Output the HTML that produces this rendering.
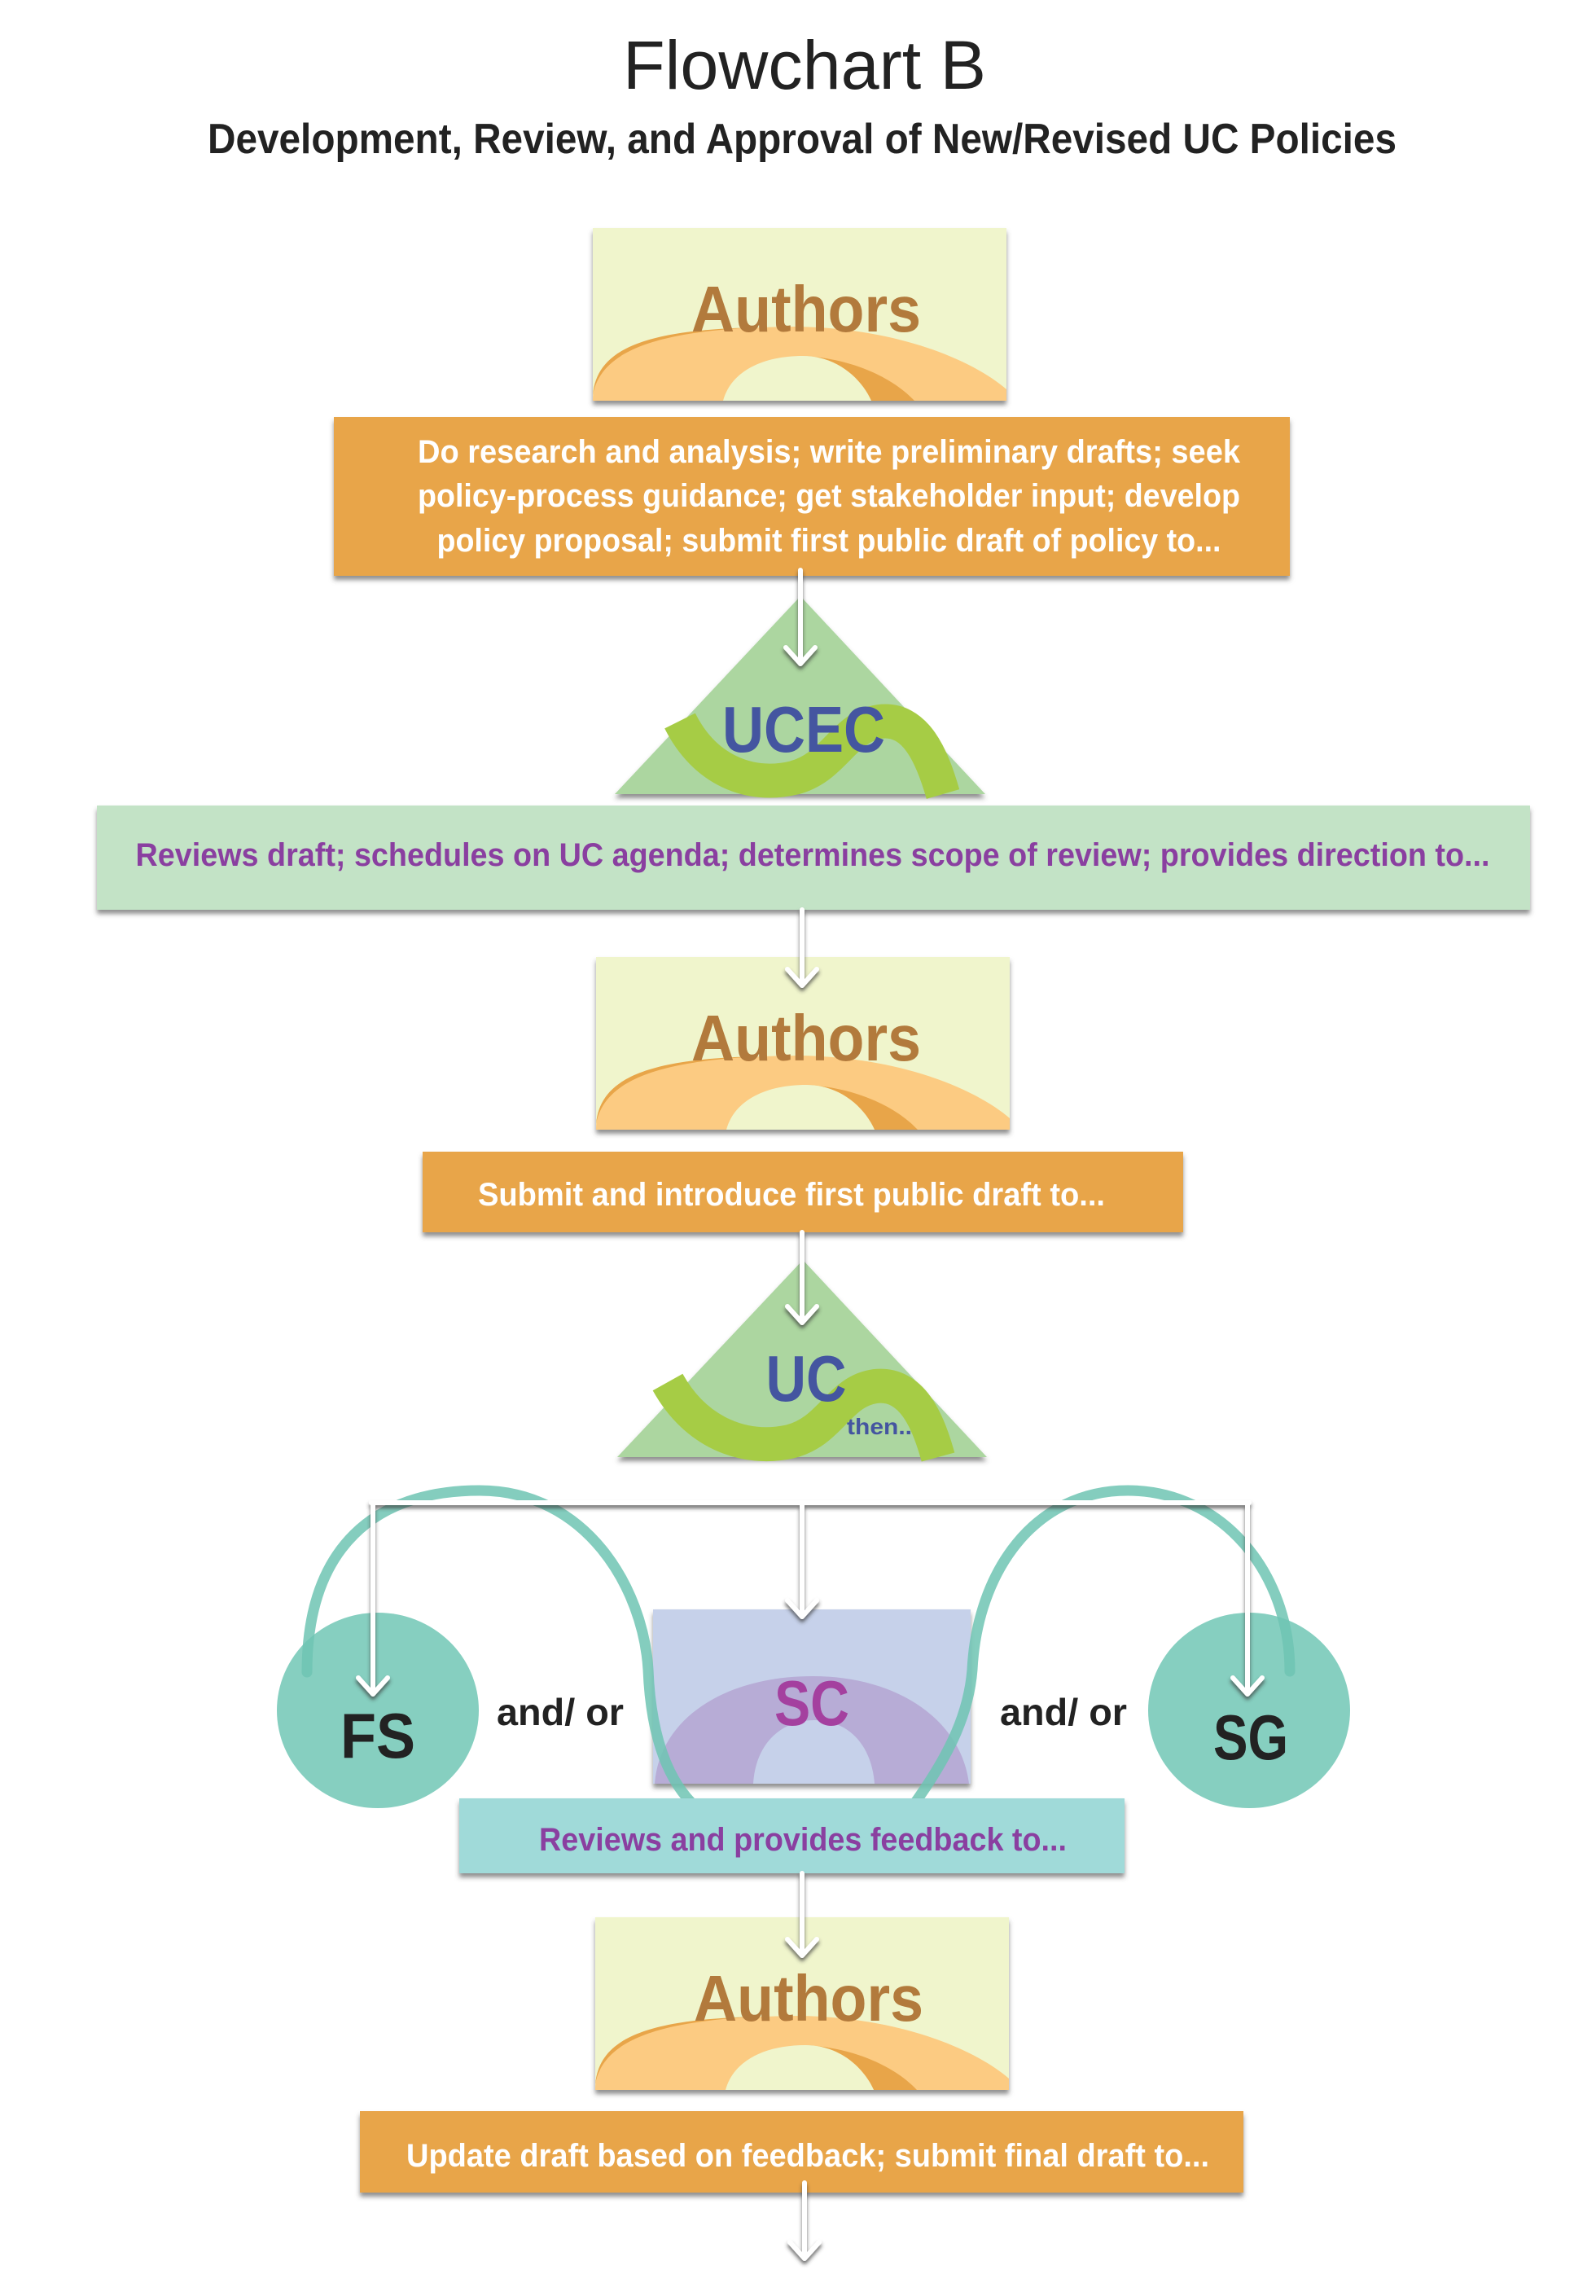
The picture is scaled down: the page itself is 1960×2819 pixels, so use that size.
<!DOCTYPE html>
<html><head><meta charset="utf-8">
<style>
html,body{margin:0;padding:0;background:#fff;}
svg{display:block;}
text{font-family:"Liberation Sans",sans-serif;font-weight:bold;}
</style></head>
<body>
<svg width="1960" height="2819" viewBox="0 0 1960 2819" xmlns="http://www.w3.org/2000/svg">
<defs>
<filter id="sh" x="-5%" y="-10%" width="110%" height="130%">
<feDropShadow dx="0" dy="5" stdDeviation="3" flood-color="#444" flood-opacity="0.6"/>
</filter>
<filter id="ash" x="-50%" y="-10%" width="200%" height="130%">
<feDropShadow dx="0" dy="4" stdDeviation="2.5" flood-color="#333" flood-opacity="0.7"/>
</filter>
<g id="auth">
<rect x="0" y="0" width="508" height="212" fill="#f0f5cc"/>
<path d="M0,212 C0,150 60,123 250,121 C380,123 470,165 508,198 L508,212 Z" fill="#fccb82"/>
<path d="M0,205 C5,150 60,125 200,122 C80,128 10,150 0,205 Z" fill="#e8a548"/>
<path d="M258,157 C320,160 370,185 395,212 L342,212 C330,185 300,157 258,157 Z" fill="#e8a548"/>
<path d="M160,212 C170,175 210,157 258,157 C300,157 330,185 342,212 Z" fill="#f0f5cc"/>
</g>
</defs>

<text x="988" y="109" font-size="84" style="font-weight:normal" text-anchor="middle" fill="#222" textLength="446" lengthAdjust="spacingAndGlyphs">Flowchart B</text>
<text x="985" y="188" font-size="52" text-anchor="middle" fill="#222" textLength="1460" lengthAdjust="spacingAndGlyphs">Development, Review, and Approval of New/Revised UC Policies</text>

<g filter="url(#sh)"><use href="#auth" transform="translate(728,280)"/></g>
<text x="990" y="407" font-size="80" text-anchor="middle" fill="#b27a3c" textLength="282" lengthAdjust="spacingAndGlyphs">Authors</text>

<rect x="410" y="512" width="1174" height="195" fill="#e8a548" filter="url(#sh)"/>
<g fill="#fff" font-size="40" text-anchor="middle">
<text x="1018" y="568" textLength="1010" lengthAdjust="spacingAndGlyphs">Do research and analysis; write preliminary drafts; seek</text>
<text x="1018" y="622" textLength="1010" lengthAdjust="spacingAndGlyphs">policy-process guidance; get stakeholder input; develop</text>
<text x="1018" y="677" textLength="963" lengthAdjust="spacingAndGlyphs">policy proposal; submit first public draft of policy to...</text>
</g>

<polygon points="983,732 1210,975 755,975" fill="#acd6a0" filter="url(#sh)"/>
<path d="M835,885 C865,945 920,968 975,955 C1025,942 1035,893 1080,886 C1125,880 1145,930 1158,975" fill="none" stroke="#a6cc45" stroke-width="42"/>
<text x="987" y="923" font-size="80" text-anchor="middle" fill="#4455a0" textLength="200" lengthAdjust="spacingAndGlyphs">UCEC</text>

<rect x="119" y="989" width="1760" height="128" fill="#c3e3c6" filter="url(#sh)"/>
<text x="998" y="1063" font-size="40" text-anchor="middle" fill="#8a3fa0" textLength="1663" lengthAdjust="spacingAndGlyphs">Reviews draft; schedules on UC agenda; determines scope of review; provides direction to...</text>

<g filter="url(#sh)"><use href="#auth" transform="translate(732,1175)"/></g>
<text x="990" y="1302" font-size="80" text-anchor="middle" fill="#b27a3c" textLength="282" lengthAdjust="spacingAndGlyphs">Authors</text>

<rect x="519" y="1414" width="934" height="99" fill="#e8a548" filter="url(#sh)"/>
<text x="972" y="1480" font-size="40" text-anchor="middle" fill="#fff" textLength="770" lengthAdjust="spacingAndGlyphs">Submit and introduce first public draft to...</text>

<polygon points="986,1547 1212,1789 758,1789" fill="#acd6a0" filter="url(#sh)"/>
<path d="M820,1697 C855,1760 915,1782 970,1770 C1020,1758 1030,1708 1075,1702 C1120,1697 1140,1745 1152,1789" fill="none" stroke="#a6cc45" stroke-width="42"/>
<text x="990" y="1720" font-size="80" text-anchor="middle" fill="#4455a0" textLength="99" lengthAdjust="spacingAndGlyphs">UC</text>
<text x="1040" y="1761" font-size="28" fill="#4455a0" textLength="80" lengthAdjust="spacingAndGlyphs">then..</text>

<rect x="802" y="1976" width="390" height="214" fill="#c6d1ea" filter="url(#sh)"/>
<path d="M804,2190 C810,2110 890,2058 998,2058 C1100,2058 1180,2110 1190,2190 Z" fill="#b7acd6"/>
<path d="M925,2190 C928,2140 960,2112 1000,2112 C1040,2112 1070,2140 1074,2190 Z" fill="#c6d1ea"/>
<text x="997" y="2118" font-size="78" text-anchor="middle" fill="#a4409f" textLength="92" lengthAdjust="spacingAndGlyphs">SC</text>

<ellipse cx="464" cy="2100" rx="124" ry="120" fill="#86cfc0"/>
<ellipse cx="1534" cy="2100" rx="124" ry="120" fill="#86cfc0"/>

<path d="M377,2053 C377,1900 460,1830 589,1830 C720,1830 790,1950 796,2050 C800,2150 830,2200 862,2225 C900,2260 1090,2260 1119,2220 C1170,2150 1190,2100 1194,2050 C1200,1930 1270,1830 1385,1830 C1500,1830 1584,1930 1584,2052" fill="none" stroke="#6fc4b3" stroke-width="13" stroke-linecap="round" opacity="0.85"/>

<text x="464" y="2158" font-size="78" text-anchor="middle" fill="#222" textLength="92" lengthAdjust="spacingAndGlyphs">FS</text>
<text x="1536" y="2160" font-size="78" text-anchor="middle" fill="#222" textLength="92" lengthAdjust="spacingAndGlyphs">SG</text>
<text x="610" y="2118" font-size="46" fill="#222" textLength="156" lengthAdjust="spacingAndGlyphs">and/ or</text>
<text x="1228" y="2118" font-size="46" fill="#222" textLength="156" lengthAdjust="spacingAndGlyphs">and/ or</text>

<rect x="564" y="2208" width="817" height="92" fill="#a0dad9" filter="url(#sh)"/>
<text x="986" y="2272" font-size="40" text-anchor="middle" fill="#8a3fa0" textLength="648" lengthAdjust="spacingAndGlyphs">Reviews and provides feedback to...</text>

<g filter="url(#sh)"><use href="#auth" transform="translate(731,2354)"/></g>
<text x="993" y="2481" font-size="80" text-anchor="middle" fill="#b27a3c" textLength="282" lengthAdjust="spacingAndGlyphs">Authors</text>

<rect x="442" y="2592" width="1085" height="100" fill="#e8a548" filter="url(#sh)"/>
<text x="992" y="2660" font-size="40" text-anchor="middle" fill="#fff" textLength="986" lengthAdjust="spacingAndGlyphs">Update draft based on feedback; submit final draft to...</text>

<g fill="none" stroke="#fff" stroke-width="6" stroke-linecap="round" stroke-linejoin="round" filter="url(#ash)">
<path d="M983,700 L983,815 M965,795 L983,815 M1001,795 L983,815"/>
<path d="M985,1117 L985,1210 M967,1190 L985,1210 M1003,1190 L985,1210"/>
<path d="M985,1513 L985,1624 M967,1604 L985,1624 M1003,1604 L985,1624"/>
<path d="M456,1845 L1534,1845"/>
<path d="M458,1845 L458,2080 M440,2060 L458,2080 M476,2060 L458,2080"/>
<path d="M985,1845 L985,1985 M967,1965 L985,1985 M1003,1965 L985,1985"/>
<path d="M1532,1845 L1532,2080 M1514,2060 L1532,2080 M1550,2060 L1532,2080"/>
<path d="M985,2300 L985,2401 M967,2381 L985,2401 M1003,2381 L985,2401"/>
<path d="M988,2680 L988,2773 M970,2753 L988,2773 M1006,2753 L988,2773"/>
</g>
</svg>
</body></html>
